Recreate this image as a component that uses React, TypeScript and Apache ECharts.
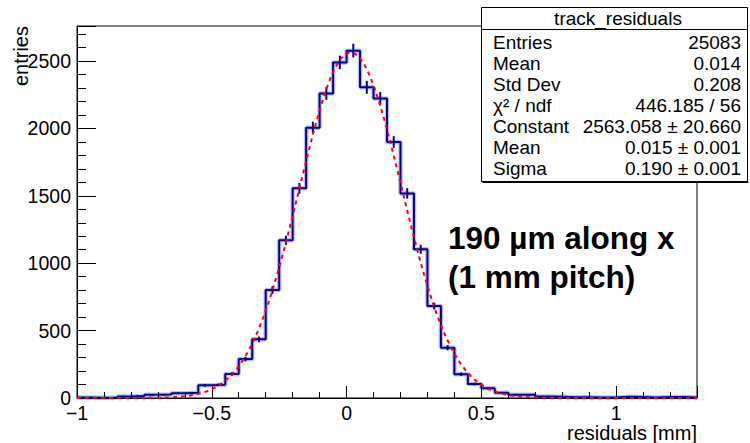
import { useEffect, useRef } from 'react';
import * as echarts from 'echarts';

// ---- data ----
const binLowEdges = [
  -1.0, -0.95, -0.9, -0.85, -0.8, -0.75, -0.7, -0.65, -0.6, -0.55,
  -0.5, -0.45, -0.4, -0.35, -0.3, -0.25, -0.2, -0.15, -0.1, -0.05,
  0.0, 0.05, 0.1, 0.15, 0.2, 0.25, 0.3, 0.35, 0.4, 0.45,
  0.5, 0.55, 0.6, 0.65, 0.7, 0.75, 0.8, 0.85, 0.9, 0.95,
  1.0, 1.05, 1.1, 1.15, 1.2, 1.25,
];
const BIN_WIDTH = 0.05;
const binEntries = [
  3, 2, 4, 12, 14, 24, 26, 36, 39, 94,
  98, 178, 289, 435, 801, 1170, 1556, 2005, 2260, 2490,
  2577, 2305, 2223, 1899, 1518, 1103, 682, 373, 176, 104,
  72, 39, 25, 24, 11, 9, 6, 5, 4, 4,
  9, 7, 3, 8, 7, 3,
];

// fit parameters (from the stats box)
const fitConstant = 2563.058;
const fitMean = 0.015;
const fitSigma = 0.19;

const xTicks = [-1, -0.5, 0, 0.5, 1];
const yTicks = [0, 500, 1000, 1500, 2000, 2500];

const statsTitle = 'track_residuals';
const statsLabels = ['Entries', 'Mean', 'Std Dev', 'χ² / ndf', 'Constant', 'Mean', 'Sigma'];
const statsValues = [
  '25083', '0.014', '0.208', '446.185 / 56',
  '2563.058 ± 20.660', '0.015 ± 0.001', '0.190 ± 0.001',
];

const annotationLines = ['190 µm along x', '(1 mm pitch)'];
const xTitle = 'residuals [mm]';
const yTitle = 'entries';

const X_MIN = -1;
const X_MAX = 1.3;
const Y_MAX = 2760;

const FONT = '"Liberation Sans", Arial, Helvetica, sans-serif';
const HIST_COLOR = '#000099';

export default function App() {
  const ref = useRef<HTMLDivElement>(null);

  useEffect(() => {
    if (!ref.current) return;
    const chart = echarts.init(ref.current, undefined, { renderer: 'svg' });

    const histPoints: number[][] = [];
    binLowEdges.forEach((lo, i) => {
      histPoints.push([lo, binEntries[i]]);
      histPoints.push([lo + BIN_WIDTH, binEntries[i]]);
    });
    const errData = binLowEdges.map((lo, i) => [
      lo + BIN_WIDTH / 2,
      binEntries[i],
      Math.sqrt(binEntries[i]),
    ]);
    const fitPoints: number[][] = [];
    for (let k = 0; k <= 230; k++) {
      const x = X_MIN + k * 0.01;
      const g = fitConstant * Math.exp(-0.5 * Math.pow((x - fitMean) / fitSigma, 2));
      fitPoints.push([x, g]);
    }

    const labelStyle = { fontFamily: FONT, fontSize: 19.5, color: '#000' };
    const fmtX = (v: number) => {
      const t = xTicks.find((tk) => Math.abs(tk - v) < 1e-6);
      return t === undefined ? '' : String(t).replace('-', '\u2212');
    };
    const fmtY = (v: number) => {
      const t = yTicks.find((tk) => Math.abs(tk - v) < 1e-6);
      return t === undefined ? '' : String(t);
    };

    const statsX = 481.5;
    const statsY = 7.5;
    const statsW = 266;
    const statsH = 174;
    const rowH = 21;
    const statsFont = `19px ${FONT}`;

    const graphics: any[] = [
      {
        type: 'rect',
        z: 100,
        shape: { x: statsX, y: statsY, width: statsW, height: statsH },
        style: { fill: '#fff', stroke: '#000', lineWidth: 1 },
      },
      {
        type: 'line',
        z: 101,
        shape: { x1: statsX + 1, y1: statsY + statsH + 1, x2: statsX + statsW + 1, y2: statsY + statsH + 1 },
        style: { stroke: '#000', lineWidth: 1 },
      },
      {
        type: 'line',
        z: 101,
        shape: { x1: statsX, y1: 29.5, x2: statsX + statsW, y2: 29.5 },
        style: { stroke: '#000', lineWidth: 1 },
      },
      {
        type: 'text',
        z: 102,
        x: 618,
        y: 18.5,
        style: {
          text: statsTitle,
          font: statsFont,
          fill: '#000',
          textAlign: 'center',
          textVerticalAlign: 'middle',
        },
      },
    ];
    statsLabels.forEach((lab, i) => {
      const cy = 42.5 + i * rowH;
      graphics.push({
        type: 'text',
        z: 102,
        x: 493,
        y: cy,
        style: { text: lab, font: statsFont, fill: '#000', textAlign: 'left', textVerticalAlign: 'middle' },
      });
      graphics.push({
        type: 'text',
        z: 102,
        x: 741,
        y: cy,
        style: { text: statsValues[i], font: statsFont, fill: '#000', textAlign: 'right', textVerticalAlign: 'middle' },
      });
    });
    annotationLines.forEach((t, i) => {
      graphics.push({
        type: 'text',
        z: 90,
        x: 448,
        y: 238 + i * 39,
        style: { text: t, font: `bold 31.5px ${FONT}`, fill: '#000', textAlign: 'left', textVerticalAlign: 'middle' },
      });
    });
    graphics.push({
      type: 'text',
      z: 90,
      x: 697,
      y: 433,
      style: { text: xTitle, font: `20px ${FONT}`, fill: '#000', textAlign: 'right', textVerticalAlign: 'middle' },
    });
    graphics.push({
      type: 'text',
      z: 90,
      x: 21,
      y: 26,
      rotation: Math.PI / 2,
      style: { text: yTitle, font: `20px ${FONT}`, fill: '#000', textAlign: 'right', textVerticalAlign: 'middle' },
    });

    chart.setOption({
      animation: false,
      backgroundColor: '#fff',
      grid: {
        left: 77,
        right: 53,
        top: 26,
        bottom: 45,
        show: true,
        borderColor: '#000',
        borderWidth: 1,
        backgroundColor: 'transparent',
      },
      xAxis: [
        {
          type: 'value',
          min: X_MIN,
          max: X_MAX,
          interval: 0.5,
          position: 'bottom',
          axisLine: { show: true, onZero: false, lineStyle: { color: '#000', width: 1 } },
          axisTick: { show: true, inside: true, length: 12, lineStyle: { color: '#000', width: 1 } },
          axisLabel: { ...labelStyle, margin: 5, formatter: fmtX },
          splitLine: { show: false },
        },
        {
          type: 'value',
          min: X_MIN,
          max: X_MAX,
          interval: 0.1,
          position: 'bottom',
          offset: 0,
          axisLine: { show: false, onZero: false },
          axisTick: { show: true, inside: true, length: 6, lineStyle: { color: '#000', width: 1 } },
          axisLabel: { show: false },
          splitLine: { show: false },
        },
      ],
      yAxis: [
        {
          type: 'value',
          min: 0,
          max: Y_MAX,
          interval: 500,
          position: 'left',
          axisLine: { show: true, onZero: false, lineStyle: { color: '#000', width: 1 } },
          axisTick: { show: true, inside: true, length: 19, lineStyle: { color: '#000', width: 1 } },
          axisLabel: { ...labelStyle, margin: 6, formatter: fmtY },
          splitLine: { show: false },
        },
        {
          type: 'value',
          min: 0,
          max: Y_MAX,
          interval: 100,
          position: 'left',
          offset: 0,
          axisLine: { show: false, onZero: false },
          axisTick: { show: true, inside: true, length: 9, lineStyle: { color: '#000', width: 1 } },
          axisLabel: { show: false },
          splitLine: { show: false },
        },
      ],
      graphic: graphics,
      series: [
        {
          type: 'line',
          xAxisIndex: 0,
          yAxisIndex: 0,
          data: histPoints,
          showSymbol: false,
          silent: true,
          z: 2,
          lineStyle: { color: 'rgba(0,0,153,0.25)', width: 4.5 },
        },
        {
          type: 'line',
          xAxisIndex: 0,
          yAxisIndex: 0,
          data: histPoints,
          showSymbol: false,
          silent: true,
          z: 3,
          lineStyle: { color: HIST_COLOR, width: 2 },
        },
        {
          type: 'custom',
          xAxisIndex: 0,
          yAxisIndex: 0,
          data: errData,
          z: 4,
          silent: true,
          encode: { x: 0, y: 1 },
          renderItem: (_params: any, api: any) => {
            const x = api.value(0);
            const v = api.value(1);
            const e = api.value(2);
            const p1 = api.coord([x, v - e]);
            const p2 = api.coord([x, v + e]);
            return {
              type: 'line',
              shape: { x1: p1[0], y1: p1[1], x2: p2[0], y2: p2[1] },
              style: { stroke: HIST_COLOR, lineWidth: 2 },
            };
          },
        },
        {
          type: 'line',
          xAxisIndex: 0,
          yAxisIndex: 0,
          data: fitPoints,
          showSymbol: false,
          silent: true,
          smooth: false,
          z: 5,
          lineStyle: { color: '#ff0000', width: 2, type: [4, 4] },
        },
      ],
    });

    return () => {
      chart.dispose();
    };
  }, []);

  return (
    <div
      ref={ref}
      style={{ position: 'fixed', left: 0, top: 0, width: 750, height: 443, background: '#fff' }}
    />
  );
}
